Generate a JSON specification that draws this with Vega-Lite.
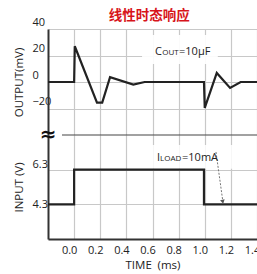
{
  "$schema": "https://vega.github.io/schema/vega-lite/v6.json",
  "padding": {"left": 13, "top": 8, "right": 0, "bottom": 0},
  "background": "white",
  "spacing": 0,
  "bounds": "flush",
  "title": {"text": "线性时态响应", "color": "#d7141a", "fontSize": 13.5, "fontWeight": "bold", "font": "Noto Sans CJK SC", "anchor": "middle", "offset": -6, "dx": 12},
  "config": {
    "font": "Open Sans",
    "view": {"stroke": null},
    "axis": {"labelFont": "Open Sans", "labelFontSize": 11, "labelColor": "#222", "titleFont": "Open Sans", "titleFontSize": 11.5, "titleFontWeight": "normal", "titleColor": "#222", "gridColor": "#c8c8c8", "gridWidth": 1.2, "domainColor": "#333", "domainWidth": 2, "ticks": false, "tickSize": 0}
  },
  "datasets": {
    "out": [
      {"i": 1, "t": -0.2, "mv": 0},
      {"i": 2, "t": 0.0, "mv": 0},
      {"i": 3, "t": 0.005, "mv": 27},
      {"i": 4, "t": 0.175, "mv": -15.5},
      {"i": 5, "t": 0.215, "mv": -15.5},
      {"i": 6, "t": 0.275, "mv": 3.6},
      {"i": 7, "t": 0.453, "mv": -2},
      {"i": 8, "t": 0.54, "mv": 0},
      {"i": 9, "t": 0.994, "mv": 0},
      {"i": 10, "t": 1.0, "mv": -19.6},
      {"i": 11, "t": 1.092, "mv": 6.8},
      {"i": 12, "t": 1.194, "mv": -4.5},
      {"i": 13, "t": 1.275, "mv": 0},
      {"i": 14, "t": 1.4, "mv": 0}
    ],
    "inp": [
      {"i": 1, "t": -0.2, "v": 4.3},
      {"i": 2, "t": 0.0, "v": 4.3},
      {"i": 3, "t": 0.0, "v": 6.3},
      {"i": 4, "t": 0.994, "v": 6.3},
      {"i": 5, "t": 0.994, "v": 4.3},
      {"i": 6, "t": 1.4, "v": 4.3}
    ],
    "topbox": [{"t1": 0.52, "t2": 1.1, "y1": 13.6, "y2": 35.5}],
    "botbox": [{"t1": 0.54, "t2": 1.22, "y1": 6.36, "y2": 7.72}],
    "topbig": [{"t": 0.619, "v": 20.4, "s": "C"}, {"t": 0.803, "v": 20.4, "s": "=10μF"}],
    "topsmall": [{"t": 0.675, "v": 20.4, "s": "OUT"}],
    "botbig": [{"t": 0.634, "v": 6.8, "s": "I"}, {"t": 0.826, "v": 6.8, "s": "=10mA"}],
    "botsmall": [{"t": 0.658, "v": 6.8, "s": "LOAD"}],
    "arrow": [{"t1": 1.086, "v1": 7.32, "t2": 1.138, "v2": 4.5}],
    "arrowhead": [{"t": 1.138, "v": 4.45}],
    "brk": [{"t1": -0.093, "t2": 1.4, "v": 8.3}],
    "brksym": [{"t": -0.2, "v": 8.3, "s": "≈"}]
  },
  "vconcat": [
    {
      "width": 209,
      "height": 106,
      "encoding": {
        "x": {"field": "t", "type": "quantitative", "scale": {"domain": [-0.2, 1.4], "nice": false, "zero": false},
              "axis": {"values": [0, 0.2, 0.4, 0.6, 0.8, 1.0, 1.2, 1.4], "labels": false, "domain": false, "grid": true, "title": null, "minExtent": 0, "maxExtent": 0, "labelPadding": 0}},
        "y": {"field": "mv", "type": "quantitative", "scale": {"domain": [-40, 40], "nice": false, "zero": false},
              "axis": {"values": [-20, 0, 20, 40], "title": "OUTPUT(mV)", "labelAlign": "left", "labelPadding": 16, "labelOffset": -7, "labelBaseline": "middle", "titlePadding": 8, "grid": true}}
      },
      "layer": [
        {"data": {"name": "topbox"}, "mark": {"type": "rect", "fill": "white", "opacity": 0.92},
         "encoding": {"x": {"field": "t1", "type": "quantitative"}, "x2": {"field": "t2"}, "y": {"field": "y1", "type": "quantitative"}, "y2": {"field": "y2"}}},
        {"data": {"name": "out"}, "mark": {"type": "line", "color": "#222", "strokeWidth": 2.2, "strokeJoin": "miter"},
         "encoding": {"order": {"field": "i", "type": "quantitative"}}},
        {"data": {"name": "topbig"}, "mark": {"type": "text", "align": "left", "baseline": "alphabetic", "fontSize": 11, "color": "#222"},
         "encoding": {"y": {"field": "v", "type": "quantitative"}, "text": {"field": "s"}}},
        {"data": {"name": "topsmall"}, "mark": {"type": "text", "align": "left", "baseline": "alphabetic", "fontSize": 8, "color": "#222"},
         "encoding": {"y": {"field": "v", "type": "quantitative"}, "text": {"field": "s"}}}
      ]
    },
    {
      "width": 209,
      "height": 104,
      "encoding": {
        "x": {"field": "t", "type": "quantitative", "scale": {"domain": [-0.2, 1.4], "nice": false, "zero": false},
              "axis": {"values": [0, 0.2, 0.4, 0.6, 0.8, 1.0, 1.2, 1.4], "format": ".1f", "labelOffset": -5, "labelFlush": false, "labelPadding": 5, "grid": true, "title": "TIME\u2002(ms)", "titlePadding": 4}},
        "y": {"field": "v", "type": "quantitative", "scale": {"domain": [2.3, 8.3], "nice": false, "zero": false},
              "axis": {"values": [4.3, 6.3], "format": ".1f", "title": "INPUT (V)", "labelAlign": "left", "labelPadding": 16, "labelOffset": {"condition": {"test": "datum.value > 5", "value": -5}, "value": 0}, "labelBaseline": "middle", "titlePadding": 8, "grid": true}}
      },
      "layer": [
        {"data": {"name": "botbox"}, "mark": {"type": "rect", "fill": "white", "opacity": 0.85},
         "encoding": {"x": {"field": "t1", "type": "quantitative"}, "x2": {"field": "t2"}, "y": {"field": "y1", "type": "quantitative"}, "y2": {"field": "y2"}}},
        {"data": {"name": "inp"}, "mark": {"type": "line", "color": "#222", "strokeWidth": 2.2, "strokeJoin": "miter"},
         "encoding": {"order": {"field": "i", "type": "quantitative"}}},
        {"data": {"name": "brk"}, "mark": {"type": "rule", "color": "#444", "strokeWidth": 1.2},
         "encoding": {"x": {"field": "t1", "type": "quantitative"}, "x2": {"field": "t2"}, "y": {"field": "v", "type": "quantitative"}}},
        {"data": {"name": "brksym"}, "mark": {"type": "text", "align": "center", "baseline": "middle", "fontSize": 20, "fontWeight": "bold", "font": "DejaVu Sans", "color": "#111"},
         "encoding": {"text": {"field": "s"}}},
        {"data": {"name": "arrow"}, "mark": {"type": "rule", "color": "#777", "strokeWidth": 1, "strokeDash": [2, 1.5]},
         "encoding": {"x": {"field": "t1", "type": "quantitative"}, "x2": {"field": "t2"}, "y": {"field": "v1", "type": "quantitative"}, "y2": {"field": "v2"}}},
        {"data": {"name": "arrowhead"}, "mark": {"type": "point", "shape": "triangle-down", "filled": true, "color": "#555", "size": 22, "angle": -12, "opacity": 1},
         "encoding": {}},
        {"data": {"name": "botbig"}, "mark": {"type": "text", "align": "left", "baseline": "alphabetic", "fontSize": 11, "color": "#222"},
         "encoding": {"text": {"field": "s"}}},
        {"data": {"name": "botsmall"}, "mark": {"type": "text", "align": "left", "baseline": "alphabetic", "fontSize": 8, "color": "#222"},
         "encoding": {"text": {"field": "s"}}}
      ]
    }
  ]
}
